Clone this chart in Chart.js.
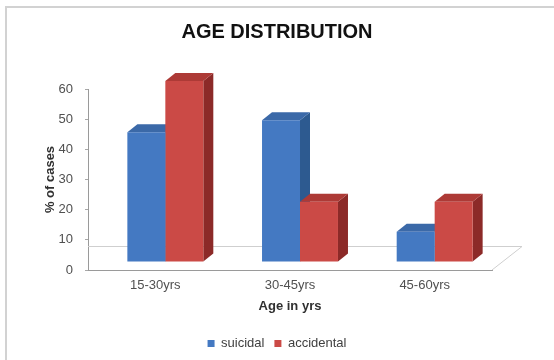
<!DOCTYPE html>
<html>
<head>
<meta charset="utf-8">
<title>Age distribution</title>
<script src="https://cdn.jsdelivr.net/npm/chart.js@4.4.0/dist/chart.umd.min.js"></script>
<style>
  html,body{margin:0;padding:0;background:#fff;}
  #wrap{position:relative;width:554px;height:360px;}
</style>
</head>
<body>
<div id="wrap"><canvas id="grafico"></canvas></div>
<script>
// Dados
const faixas = ["15-30yrs", "30-45yrs", "45-60yrs"];
const suicidal = [43, 47, 10];
const accidental = [60, 20, 20];
const ticksY = [0, 10, 20, 30, 40, 50, 60];

// Cores (frente, lado, topo)
const cores = {
  suicidal:   { frente: "#4479c2", lado: "#2d5a90", topo: "#3b69a8" },
  accidental: { frente: "#cb4a46", lado: "#8c2a28", topo: "#ad3a36" }
};
const PROF = { dx: 10, dy: -8 };     // profundidade das barras
const CHAO = { dx: 30, dy: -24 };    // profundidade do piso
const fonte = "'Liberation Sans', Arial, sans-serif";

// Moldura cinza em volta
const moldura = {
  id: "moldura",
  beforeDraw(chart){
    const ctx = chart.ctx;
    ctx.save();
    ctx.strokeStyle = "#d2d2d2"; ctx.lineWidth = 2;
    ctx.strokeRect(6, 7, 620, 420);
    ctx.restore();
  }
};

// Piso + faces laterais/topo das barras
const barras3d = {
  id: "barras3d",
  beforeDatasetsDraw(chart){
    const ctx = chart.ctx, a = chart.chartArea;
    ctx.save();
    ctx.strokeStyle = "#cfcfcf"; ctx.lineWidth = 1;
    ctx.beginPath();
    ctx.moveTo(a.left, a.bottom + CHAO.dy + 0.5);
    ctx.lineTo(a.right + CHAO.dx, a.bottom + CHAO.dy + 0.5);
    ctx.lineTo(a.right, a.bottom);
    ctx.stroke();
    ctx.restore();

    ctx.save();
    ctx.translate(PROF.dx, PROF.dy);
    chart.data.datasets.forEach((ds, di)=>{
      const c = ds.cores;
      chart.getDatasetMeta(di).data.forEach(el=>{
        const {x, y, base, width} = el.getProps(["x","y","base","width"], true);
        const l = x - width/2, r = x + width/2;
        ctx.fillStyle = c.lado;
        ctx.beginPath();
        ctx.moveTo(r, y); ctx.lineTo(r+PROF.dx, y+PROF.dy);
        ctx.lineTo(r+PROF.dx, base+PROF.dy); ctx.lineTo(r, base);
        ctx.closePath(); ctx.fill();
        ctx.fillStyle = c.topo;
        ctx.beginPath();
        ctx.moveTo(l, y); ctx.lineTo(l+PROF.dx, y+PROF.dy);
        ctx.lineTo(r+PROF.dx, y+PROF.dy); ctx.lineTo(r, y);
        ctx.closePath(); ctx.fill();
      });
    });
  },
  afterDatasetsDraw(chart){
    chart.ctx.restore();
  }
};

const ctx = document.getElementById("grafico").getContext("2d");
new Chart(ctx, {
  type: "bar",
  data: {
    labels: faixas,
    datasets: [
      { label: "suicidal", data: suicidal, backgroundColor: cores.suicidal.frente, cores: cores.suicidal },
      { label: "accidental", data: accidental, backgroundColor: cores.accidental.frente, cores: cores.accidental }
    ]
  },
  options: {
    responsive: true,
    maintainAspectRatio: false,
    animation: false,
    layout: { padding: 0 },
    datasets: { bar: { categoryPercentage: 0.564, barPercentage: 1, borderWidth: 0, clip: false } },
    plugins: {
      title: {
        display: true, text: "AGE DISTRIBUTION", color: "#111",
        font: { family: fonte, size: 20, weight: "bold" },
        padding: { top: 20, bottom: 45 }
      },
      legend: {
        position: "bottom",
        labels: {
          boxWidth: 7, boxHeight: 7, padding: 10, color: "#404040",
          font: { family: fonte, size: 13 }
        }
      },
      tooltip: { enabled: false }
    },
    scales: {
      x: {
        grid: { display: true, drawOnChartArea: false, drawTicks: false },
        border: { color: "#9a9a9a" },
        ticks: { color: "#505050", padding: 8, font: { family: fonte, size: 13 } },
        title: {
          display: true, text: "Age in yrs", color: "#303030",
          font: { family: fonte, size: 13, weight: "bold" },
          padding: { top: 4, bottom: 13 }
        },
        afterFit(s){ s.height = 57; }
      },
      y: {
        min: 0, max: 60,
        afterBuildTicks(s){ s.ticks = ticksY.map(v=>({ value: v })); },
        grid: { drawOnChartArea: false, drawTicks: true, tickLength: 3, color: "#a8a8a8" },
        border: { color: "#9a9a9a" },
        ticks: { color: "#505050", padding: 12, font: { family: fonte, size: 13 } },
        title: {
          display: true, text: "% of cases", color: "#303030",
          font: { family: fonte, size: 13, weight: "bold" },
          padding: { top: 43, bottom: 0 }
        },
        afterFit(s){ s.width = 88; }
      },
      // eixo vazio a direita, so reserva espaco pro piso
      lado: {
        position: "right", display: true,
        grid: { display: false }, border: { display: false },
        ticks: { display: false },
        afterFit(s){ s.width = 62; }
      }
    }
  },
  plugins: [moldura, barras3d]
});
</script>
</body>
</html>
